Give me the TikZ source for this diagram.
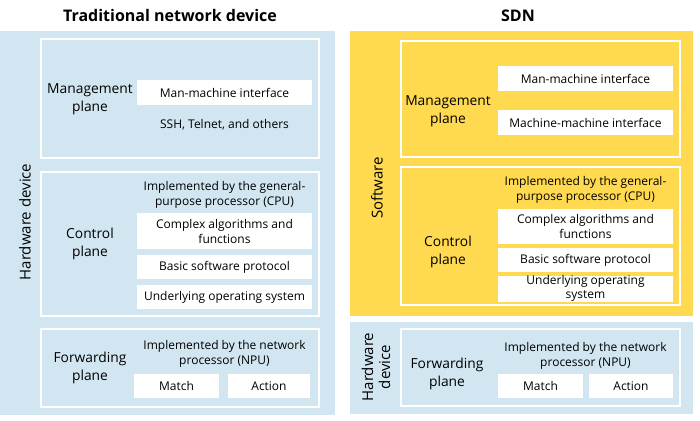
\documentclass[tikz,border=0pt]{standalone}
\usepackage{fontspec}
\setmainfont{Open Sans}
\definecolor{hwblue}{RGB}{210,230,242}
\definecolor{swyellow}{RGB}{255,218,80}
\begin{document}
\begin{tikzpicture}[x=1pt,y=-1pt,
  plane/.style={draw=white,line width=2.2pt},
  item/.style={fill=white,draw=none,inner sep=0pt,font=\fontsize{12}{15}\selectfont,align=center},
  txt/.style={inner sep=0pt,font=\fontsize{12}{15}\selectfont,align=center},
  lbl/.style={inner sep=0pt,font=\fontsize{13.8}{18}\selectfont,align=center},
  ttl/.style={inner sep=0pt,font=\bfseries\fontsize{16}{18}\selectfont}]
\useasboundingbox (0,0) rectangle (700,420);
% backgrounds
\fill[hwblue] (0,31) rectangle (335,415);
\fill[swyellow] (350,31) rectangle (693,316);
\fill[hwblue] (350,322) rectangle (693,414);
% titles
\node[ttl] (t1) at (170,16) {Traditional network device};
\node[ttl] (t2) at (518,16) {SDN};
% left: vertical label
\node[lbl,rotate=90,font=\fontsize{15}{18}\selectfont] (hwl) at (25,222) {Hardware device};
% left management plane
\draw[plane] (41,39) rectangle (319,158);
\node[lbl] (lmp) at (90,99) {Management\\plane};
\node[item,minimum width=175pt,minimum height=25pt] (lmmi) at (224.5,92.5) {Man-machine interface};
\node[txt] (lssh) at (224.5,125) {SSH, Telnet, and others};
% left control plane
\draw[plane] (41,172) rectangle (319,316);
\node[lbl] (lcp) at (90,244) {Control\\plane};
\node[txt] (lcpu) at (224.5,194.5) {Implemented by the general-\\purpose processor (CPU)};
\node[item,minimum width=175pt,minimum height=36pt] (lcaf) at (224.5,231) {Complex algorithms and\\functions};
\node[item,minimum width=175pt,minimum height=24pt] (lbsp) at (224.5,267) {Basic software protocol};
\node[item,minimum width=175pt,minimum height=24pt] (luos) at (224.5,297) {Underlying operating system};
% left forwarding plane
\draw[plane] (41,329) rectangle (319,407);
\node[lbl] (lfp) at (90,368) {Forwarding\\plane};
\node[txt] (lnpu) at (224.5,353.5) {Implemented by the network\\processor (NPU)};
\node[item,minimum width=85pt,minimum height=24pt] (lmatch) at (176.5,386) {Match};
\node[item,minimum width=82pt,minimum height=24pt] (laction) at (269,386) {Action};
% right: software label
\node[lbl,rotate=90,font=\fontsize{15}{18}\selectfont] (swl) at (377,188) {Software};
% right management plane
\draw[plane] (401,41) rectangle (680,157);
\node[lbl] (rmp) at (448,111) {Management\\plane};
\node[item,minimum width=175pt,minimum height=25pt] (rmmi) at (585.5,78.5) {Man-machine interface};
\node[item,minimum width=175pt,minimum height=25pt] (rmmm) at (585.5,122.5) {Machine-machine interface};
% right control plane
\draw[plane] (401,167) rectangle (680,305);
\node[lbl] (rcp) at (448,252) {Control\\plane};
\node[txt] (rcpu) at (585.5,189.5) {Implemented by the general-\\purpose processor (CPU)};
\node[item,minimum width=175pt,minimum height=35pt] (rcaf) at (585.5,226.5) {Complex algorithms and\\functions};
\node[item,minimum width=175pt,minimum height=24pt] (rbsp) at (585.5,260) {Basic software protocol};
\node[item,minimum width=175pt,minimum height=25pt,font=\fontsize{12}{14}\selectfont] (ruos) at (585.5,288.5) {Underlying operating\\system};
% right forwarding plane
\node[lbl,rotate=90,font=\fontsize{15}{17}\selectfont] (rhwl) at (376,367) {Hardware\\device};
\draw[plane] (401,329) rectangle (680,406);
\node[lbl] (rfp) at (447,374) {Forwarding\\plane};
\node[txt] (rnpu) at (585.5,355.5) {Implemented by the network\\processor (NPU)};
\node[item,minimum width=85pt,minimum height=24pt] (rmatch) at (540.5,386) {Match};
\node[item,minimum width=84pt,minimum height=24pt] (raction) at (631,386) {Action};
\end{tikzpicture}
\end{document}
